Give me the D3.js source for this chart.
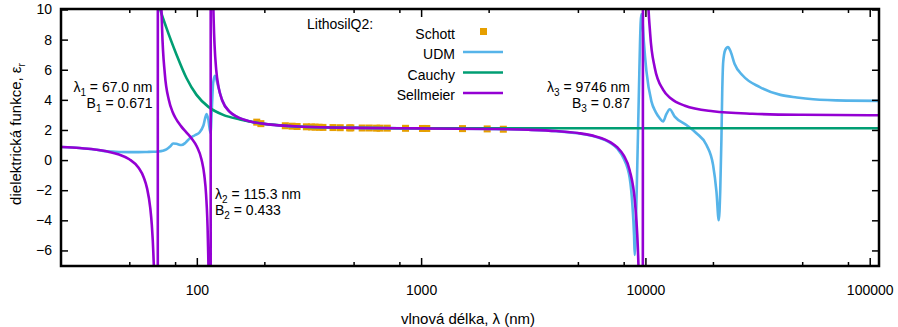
<!DOCTYPE html>
<html>
<head>
<meta charset="utf-8">
<script src="https://cdn.jsdelivr.net/npm/d3@7"></script>
<style>
body { margin: 0; background: #fff; }
svg text { font-family: "Liberation Sans", Arial, sans-serif; font-size: 14px; fill: #000; }
</style>
</head>
<body>
<script>
let width = 898;
let height = 327;

// Schott catalogue points
let schottLambda = [185, 193, 248, 266, 280, 308, 325, 337, 351, 365, 404.7, 435.8, 480, 486.1, 546.1, 587.6, 632.8, 656.3, 706.5, 852.1, 1014, 1060, 1529.6, 1970.1, 2325.4];
let schottEps = [2.52, 2.42, 2.28, 2.25, 2.23, 2.21, 2.20, 2.19, 2.18, 2.17, 2.16, 2.15, 2.14, 2.14, 2.13, 2.13, 2.12, 2.12, 2.12, 2.11, 2.10, 2.10, 2.09, 2.07, 2.05];

// UDM fit
let udmLambda = [25, 30, 35, 40, 45, 50, 55, 60, 64, 67, 70.5, 73.2, 76, 78.4, 81, 85.4, 89, 93.1, 98, 103, 107, 110.5, 112.5, 115.1, 116.5, 118.2, 120.3, 122, 124.5, 130, 140, 150, 175, 200, 300, 500, 1000, 2000, 3000, 4000, 5000, 6000, 7000, 7500, 8000, 8510, 8750, 8900, 8960, 9146, 9336, 9529, 9598, 9700, 9827, 10103, 10635, 11100, 11583, 11987, 12400, 12835, 13510, 15236, 16886, 18717, 20030, 20734, 21234, 21560, 21820, 22000, 22220, 22680, 23340, 24000, 24960, 27220, 32360, 39990, 47310, 55980, 78700, 110000];
let udmEps = [0.87, 0.80, 0.70, 0.58, 0.54, 0.53, 0.53, 0.54, 0.55, 0.57, 0.62, 0.71, 0.90, 1.10, 1.08, 1.00, 1.15, 1.45, 1.65, 1.85, 2.30, 3.05, 2.70, 1.80, 3.20, 5.10, 5.60, 5.40, 4.90, 3.94, 3.20, 2.89, 2.55, 2.40, 2.21, 2.14, 2.10, 2.07, 2.01, 1.92, 1.78, 1.55, 1.12, 0.75, 0.10, -1.20, -3.00, -5.00, -6.30, -2.00, 4.00, 9.20, 9.70, 9.30, 8.00, 5.90, 3.90, 3.20, 2.78, 2.56, 3.05, 3.38, 2.89, 2.33, 1.78, 1.00, -0.33, -2.10, -4.00, -2.00, 1.40, 4.50, 6.50, 7.30, 7.50, 7.20, 6.40, 5.60, 4.85, 4.33, 4.16, 4.04, 3.95, 3.93];

// Cauchy fit
let cauchyLambda = [64, 68.4, 73.2, 81.2, 89.9, 99.7, 112.3, 131.1, 155.7, 184.7, 250, 400, 1000, 3000, 110000];
let cauchyEps = [12.0, 10.1, 8.78, 7.00, 5.45, 4.33, 3.55, 3.00, 2.70, 2.48, 2.28, 2.16, 2.115, 2.11, 2.11];

// Sellmeier fit
let sellmeierLambda = [25, 30, 35, 40, 45, 50, 55, 58, 60, 62, 63, 64, 65, 66, 66.8, 67.2, 68, 69, 70, 72, 75, 78, 80, 85, 90, 95, 100, 105, 108, 110, 112, 113, 114, 115.1, 115.5, 116, 117, 118, 119, 120, 122, 125, 130, 140, 150, 175, 200, 300, 500, 1000, 2000, 3000, 4000, 5000, 6000, 7000, 7500, 8000, 8500, 9000, 9200, 9300, 9400, 9600, 9700, 9790, 9900, 10000, 10200, 10500, 11000, 12000, 13000, 15000, 20000, 30000, 50000, 100000, 110000];
let sellmeierEps = [0.870, 0.800, 0.704, 0.569, 0.371, 0.056, -0.514, -1.153, -1.878, -3.175, -4.306, -6.186, -9.94, -21.2, -111.1, 113.7, 23.75, 12.50, 8.747, 5.728, 4.005, 3.194, 2.845, 2.256, 1.830, 1.420, 0.903, 0.028, -1.008, -2.321, -5.197, -8.50, -16.86, -122.7, 127.1, 37.97, 17.0, 11.56, 9.055, 7.61, 6.01, 4.844, 3.943, 3.216, 2.896, 2.551, 2.404, 2.213, 2.138, 2.104, 2.068, 2.014, 1.928, 1.794, 1.573, 1.177, 0.840, 0.307, -0.661, -2.937, -5.02, -6.76, -9.50, -26.3, -89.4, 99.1, 30.3, 19.45, 12.1, 8.388, 6.15, 4.66, 4.09, 3.61, 3.245, 3.077, 3.008, 2.982, 2.981];

let xMajorTicks = [100, 1000, 10000, 100000];
let xMinorTicks = [50, 80, 200, 500, 800, 2000, 5000, 8000, 20000, 50000, 80000];
let yTicks = [-6, -4, -2, 0, 2, 4, 6, 8, 10];

let legendLabels = ['Schott', 'UDM', 'Cauchy', 'Sellmeier'];
let colors = {Schott: '#e69f00', UDM: '#56b4e9', Cauchy: '#009e73', Sellmeier: '#9400d3'};

let plotLeft = 61, plotRight = 879, plotTop = 9, plotBottom = 266;

let x = d3.scaleLog().domain([24.8, 110000]).range([plotLeft, plotRight]);
let y = d3.scaleLinear().domain([-7, 10]).range([265.5, 9.5]);

let svg = d3.select('body')
.append('svg')
.attr('width', width)
.attr('height', height);

svg.append('clipPath')
.attr('id', 'clip')
.append('rect')
.attr('x', plotLeft)
.attr('y', plotTop)
.attr('width', plotRight - plotLeft)
.attr('height', plotBottom - plotTop);

let plot = svg.append('g').attr('clip-path', 'url(#clip)');

function zip(a, b){
    return a.map((v, i) => [v, b[i]]);
}

let line = d3.line()
.x(d => x(d[0]))
.y(d => y(d[1]))
.curve(d3.curveMonotoneX);

plot.selectAll('rect.schott')
.data(zip(schottLambda, schottEps))
.enter()
.append('rect')
.attr('class', 'schott')
.attr('x', d => x(d[0]) - 3.5)
.attr('y', d => y(d[1]) - 3.5)
.attr('width', 7)
.attr('height', 7)
.attr('fill', colors.Schott);

let curves = [
    ['UDM', udmLambda, udmEps],
    ['Cauchy', cauchyLambda, cauchyEps],
    ['Sellmeier', sellmeierLambda, sellmeierEps]
];

curves.forEach(function(c){
    plot.append('path')
    .attr('d', line(zip(c[1], c[2])))
    .attr('fill', 'none')
    .attr('stroke', colors[c[0]])
    .attr('stroke-width', 2.6)
    .attr('stroke-linejoin', 'round');
});

// axes, ticks pointing inwards
function styleAxis(g){
    g.select('.domain').remove();
    g.selectAll('.tick line').attr('stroke', '#000').attr('stroke-width', 1.5);
    g.selectAll('text').style('font-size', '14px').style('font-family', '"Liberation Sans", Arial, sans-serif');
}

svg.append('g')
.attr('transform', 'translate(0,' + plotBottom + ')')
.call(d3.axisBottom(x).tickValues(xMajorTicks).tickFormat(d3.format('d')).tickSizeInner(-8).tickPadding(19))
.call(styleAxis)
.selectAll('text').attr('fill', '#000');

svg.append('g')
.attr('transform', 'translate(0,' + plotBottom + ')')
.call(d3.axisBottom(x).tickValues(xMinorTicks).tickFormat('').tickSizeInner(-4))
.call(styleAxis);

svg.append('g')
.attr('transform', 'translate(0,' + plotTop + ')')
.call(d3.axisTop(x).tickValues(xMajorTicks).tickFormat('').tickSizeInner(-8))
.call(styleAxis);

svg.append('g')
.attr('transform', 'translate(0,' + plotTop + ')')
.call(d3.axisTop(x).tickValues(xMinorTicks).tickFormat('').tickSizeInner(-4))
.call(styleAxis);

svg.append('g')
.attr('transform', 'translate(' + plotLeft + ',0)')
.call(d3.axisLeft(y).tickValues(yTicks).tickSizeInner(-7).tickPadding(9))
.call(styleAxis)
.selectAll('text').attr('fill', '#000');

svg.append('g')
.attr('transform', 'translate(' + plotRight + ',0)')
.call(d3.axisRight(y).tickValues(yTicks).tickFormat('').tickSizeInner(-7))
.call(styleAxis);

svg.append('rect')
.attr('x', plotLeft)
.attr('y', plotTop)
.attr('width', plotRight - plotLeft)
.attr('height', plotBottom - plotTop)
.attr('fill', 'none')
.attr('stroke', '#000')
.attr('stroke-width', 2.5);

// text with subscripts: parts = [[text, isSub], ...]
function richText(px, py, anchor, parts, rotate, size){
    let t = svg.append('text')
    .attr('text-anchor', anchor)
    .style('font-size', (size || 14) + 'px');
    if (rotate) {
        t.attr('transform', 'translate(' + px + ',' + py + ') rotate(-90)');
    } else {
        t.attr('x', px).attr('y', py);
    }
    let shifted = false;
    parts.forEach(function(p){
        let s = t.append('tspan').text(p[0]);
        if (p[1]) {
            s.attr('dy', 4).style('font-size', '10px');
            shifted = true;
        } else if (shifted) {
            s.attr('dy', -4);
            shifted = false;
        }
    });
    return t;
}

richText(152.5, 91.5, 'end', [['λ', false], ['1', true], [' = 67.0 nm', false]]);
richText(152.5, 108, 'end', [['B', false], ['1', true], [' = 0.671', false]]);
richText(215, 198.5, 'start', [['λ', false], ['2', true], [' = 115.3 nm', false]]);
richText(215, 215, 'start', [['B', false], ['2', true], [' = 0.433', false]]);
richText(630, 91.5, 'end', [['λ', false], ['3', true], [' = 9746 nm', false]]);
richText(630, 108, 'end', [['B', false], ['3', true], [' = 0.87', false]]);

richText(468, 324, 'middle', [['vlnová délka, λ (nm)', false]], false, 15);
richText(21, 134, 'middle', [['dielektrická funkce, ε', false], ['r', true]], true, 15);

// legend
svg.append('text')
.attr('x', 307)
.attr('y', 29)
.text('LithosilQ2:');

let legend = svg.append('g');
legendLabels.forEach(function(name, i){
    let base = 38.5 + 20.5 * i;
    let sy = base - 7;
    legend.append('text')
    .attr('x', 455)
    .attr('y', base)
    .attr('text-anchor', 'end')
    .text(name);
    if (name === 'Schott') {
        legend.append('rect')
        .attr('x', 483.5 - 3.5)
        .attr('y', sy - 3.5)
        .attr('width', 7)
        .attr('height', 7)
        .attr('fill', colors[name]);
    } else {
        legend.append('line')
        .attr('x1', 463)
        .attr('x2', 503)
        .attr('y1', sy)
        .attr('y2', sy)
        .attr('stroke', colors[name])
        .attr('stroke-width', 2.6);
    }
});
</script>
</body>
</html>
